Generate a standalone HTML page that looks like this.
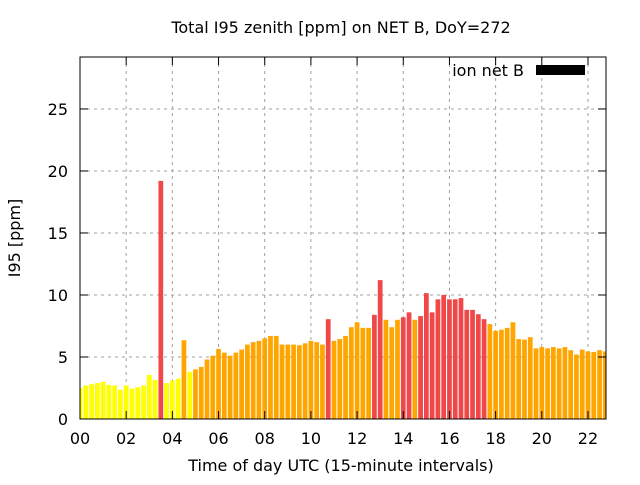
<!DOCTYPE html>
<html><head><meta charset="utf-8"><style>
body{margin:0;background:#fff;}
svg text{font-family:"DejaVu Sans","Liberation Sans",sans-serif;font-size:16px;fill:#000;}
</style></head><body>
<svg id="chart" width="640" height="480" xmlns="http://www.w3.org/2000/svg">
<rect width="640" height="480" fill="#fff"/>
<g id="grid"></g>
<g id="bars"></g>
<g id="axes"></g>
<text x="341" y="33" text-anchor="middle">Total I95 zenith [ppm] on NET B, DoY=272</text>
<text x="341" y="471" text-anchor="middle">Time of day UTC (15-minute intervals)</text>
<text transform="translate(20,238) rotate(-90)" text-anchor="middle">I95 [ppm]</text>
<g>
<text x="524" y="76" text-anchor="end">ion net B</text>
<rect x="536" y="65" width="49" height="10" fill="#000"/>
</g>
</svg>
<script>
const values=[2.5,2.7,2.8,2.9,3.0,2.75,2.7,2.35,2.7,2.45,2.55,2.7,3.55,3.15,19.2,2.9,3.1,3.25,6.35,3.8,
4.0,4.2,4.8,5.1,5.65,5.35,5.1,5.35,5.6,6.0,6.2,6.3,6.5,6.7,6.7,6.0,6.0,6.0,5.95,6.1,
6.3,6.2,6.0,8.05,6.3,6.45,6.7,7.4,7.8,7.35,7.35,8.4,11.2,8.0,7.4,8.0,8.2,8.6,8.0,8.3,
10.15,8.6,9.65,10.0,9.65,9.65,9.75,8.8,8.8,8.45,8.05,7.65,7.1,7.2,7.35,7.8,6.45,6.4,6.6,5.7,
5.8,5.7,5.8,5.7,5.8,5.55,5.2,5.6,5.45,5.4,5.55,5.45];
const levels="yyyyyyyyyyyyyy"+"r"+"yyy"+"o"+"y"+"ooooooooooooooooooooooo"+"r"+"ooooooo"+"rr"+"ooo"+"rr"+"o"+"rrrrrrrrrrrr"+"ooooooooooooooooooooo";
const yTicks=[0,5,10,15,20,25];
const xTickLabels=["00","02","04","06","08","10","12","14","16","18","20","22"];
const colors={y:"#ffff00",o:"#ffa500",r:"#f04848"};
const L=80,R=606,T=57,B=419,xMin=0,xMax=22.78,yMax=29.19;
const xs=h=>L+(h-xMin)/(xMax-xMin)*(R-L);
const ys=v=>B-v/yMax*(B-T);
const NS="http://www.w3.org/2000/svg";
function mk(tag,attrs,parent){const e=document.createElementNS(NS,tag);for(const k in attrs)e.setAttribute(k,attrs[k]);parent.appendChild(e);return e;}
const grid=document.getElementById('grid'),bars=document.getElementById('bars'),axes=document.getElementById('axes');
yTicks.forEach(v=>{const y=ys(v);
 if(v>0){const g=mk('line',{x1:L,x2:R,y1:y,y2:y,stroke:'#a0a0a0','stroke-dasharray':'3,4'},grid);
 
 }
 const t=mk('line',{x1:L,x2:L+8,y1:y,y2:y,stroke:'#000'},axes);
 
 
 const t2=mk('line',{x1:R,x2:R-8,y1:y,y2:y,stroke:'#000'},axes);
 
 
 const l=mk('text',{x:L-12,y:y+6,'text-anchor':'end'},axes);l.textContent=v;
 
 
});
xTickLabels.forEach((s,i)=>{const x=xs(parseInt(s,10));
 if(i>0){const g=mk('line',{x1:x,x2:x,y1:T,y2:B,stroke:'#a0a0a0','stroke-dasharray':'3,4'},grid);
 
 }
 const t=mk('line',{x1:x,x2:x,y1:B,y2:B-8,stroke:'#000'},axes);
 
 
 const t2=mk('line',{x1:x,x2:x,y1:T,y2:T+8,stroke:'#000'},axes);
 
 
 const l=mk('text',{x:x,y:B+25,'text-anchor':'middle'},axes);l.textContent=s;
 
 
});
const bw=(xs(0.25)-xs(0))*0.82;
values.forEach((v,i)=>{const c=xs(i*0.25);let x0=c-bw/2,x1=c+bw/2;x0=Math.max(x0,L);x1=Math.min(x1,R);
 const r=mk('rect',{x:x0,y:ys(v),width:Math.max(0,x1-x0),height:B-ys(v),fill:colors[levels[i]]||colors.o},bars);
 
 
});
const f=mk('rect',{x:L,y:T,width:R-L,height:B-T,fill:'none',stroke:'#000','stroke-width':1},axes);


</script>
</body></html>
